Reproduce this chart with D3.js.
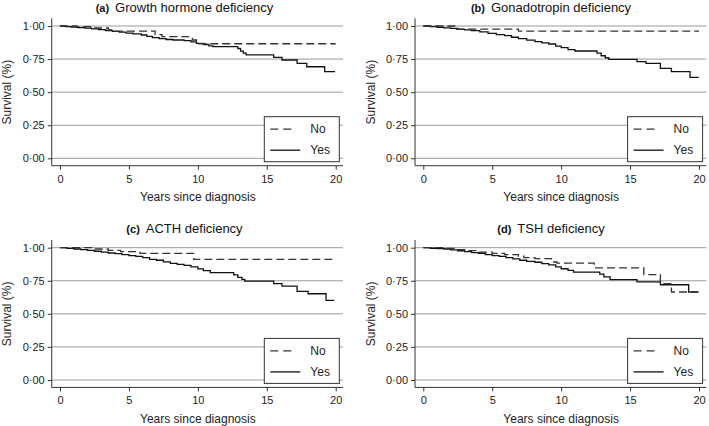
<!DOCTYPE html>
<html>
<head>
<meta charset="utf-8">
<script src="https://cdn.jsdelivr.net/npm/d3@7"></script>
<style>
  html, body { margin: 0; padding: 0; background: #fff; }
  svg { display: block; font-family: "Liberation Sans", Arial, Helvetica, sans-serif; }
</style>
</head>
<body>
<svg id="chart" width="709" height="426"></svg>
<script>
// ---------- data ----------
const panelLetters = ["(a)", "(b)", "(c)", "(d)"];
const panelTitles = ["Growth hormone deficiency", "Gonadotropin deficiency", "ACTH deficiency", "TSH deficiency"];
const seriesNames = ["No", "Yes"];
const xTicks = [0, 5, 10, 15, 20];
const yTicks = [0, 0.25, 0.5, 0.75, 1];
const xLabel = "Years since diagnosis";
const yLabel = "Survival (%)";

// Kaplan–Meier steps: [years, survival]
const noGH = [[0,1],[1.2,0.995],[2.2,0.985],[3.5,0.97],[4.0,0.962],[6.9,0.935],[7.4,0.919],[9.6,0.894],[9.9,0.866],[20,0.866]];
const yesGH = [[0,1],[0.4,0.996],[0.8,0.992],[1.3,0.988],[1.8,0.984],[2.3,0.979],[2.8,0.972],[3.3,0.966],[3.8,0.96],[4.3,0.953],[4.8,0.946],[5.3,0.94],[5.9,0.932],[6.3,0.922],[6.7,0.912],[7.2,0.905],[7.7,0.898],[8.2,0.894],[9.0,0.889],[9.5,0.88],[9.9,0.869],[10.4,0.86],[10.8,0.85],[11.1,0.844],[12.9,0.83],[13.1,0.81],[13.3,0.795],[13.5,0.781],[15.5,0.763],[16.1,0.743],[17.2,0.718],[17.9,0.692],[19.2,0.655],[19.95,0.655]];

const noGn = [[0,1],[2.4,0.977],[6.9,0.962],[20,0.962]];
const yesGn = [[0,1],[0.5,0.995],[1.0,0.99],[1.5,0.986],[2.0,0.982],[2.5,0.975],[3.0,0.97],[3.5,0.965],[4.1,0.955],[4.7,0.945],[5.3,0.935],[5.9,0.927],[6.4,0.915],[6.9,0.905],[7.5,0.893],[8.1,0.882],[8.6,0.873],[9.1,0.864],[9.6,0.848],[10.0,0.836],[10.5,0.822],[11.0,0.811],[12.6,0.795],[12.9,0.775],[13.2,0.76],[13.45,0.748],[15.5,0.73],[16.15,0.718],[17.2,0.68],[18.0,0.655],[19.35,0.612],[19.98,0.612]];

const noACTH = [[0,1],[2.3,0.99],[3.5,0.98],[4.4,0.97],[5.8,0.957],[9.7,0.912],[19.8,0.912]];
const yesACTH = [[0,1],[0.5,0.995],[1.0,0.99],[1.5,0.985],[2.0,0.98],[2.5,0.973],[3.0,0.967],[3.5,0.96],[4.0,0.955],[4.5,0.947],[5.0,0.94],[5.5,0.935],[6.0,0.925],[6.5,0.912],[7.0,0.905],[7.5,0.893],[8.0,0.882],[8.5,0.874],[9.0,0.866],[9.5,0.855],[10.0,0.84],[10.4,0.827],[10.9,0.811],[12.6,0.795],[12.9,0.775],[13.2,0.76],[13.4,0.748],[15.5,0.728],[16.1,0.71],[17.2,0.67],[18.0,0.652],[19.3,0.602],[19.9,0.602]];

const noTSH = [[0,1],[1.5,0.995],[2.3,0.986],[3.0,0.978],[4.0,0.967],[5.0,0.957],[5.9,0.947],[6.9,0.937],[7.3,0.925],[8.1,0.917],[9.3,0.892],[9.7,0.884],[12.4,0.847],[16.0,0.796],[17.2,0.728],[18.0,0.665],[19.98,0.665]];
const yesTSH = [[0,1],[0.5,0.996],[1.0,0.993],[1.5,0.99],[2.0,0.984],[2.5,0.977],[3.0,0.97],[3.5,0.963],[4.0,0.958],[4.5,0.948],[5.0,0.94],[5.5,0.935],[6.0,0.925],[6.5,0.915],[7.0,0.905],[7.5,0.896],[8.1,0.89],[8.6,0.88],[9.1,0.87],[9.6,0.855],[10.0,0.841],[10.5,0.828],[10.9,0.816],[12.8,0.8],[13.1,0.78],[13.55,0.758],[15.5,0.741],[17.2,0.72],[19.25,0.665],[19.9,0.665]];

const panelSeries = [[noGH, yesGH], [noGn, yesGn], [noACTH, yesACTH], [noTSH, yesTSH]];

// ---------- layout ----------
const colX0 = [60, 423.3];      // pixel of year 0
const rowY1 = [26, 247.7];      // pixel of survival 1.00
const xSpan = 275.7, ySpan = 132.3;
const titleCX = [184.5, 551];

const svg = d3.select("#chart");
const fmt = v => d3.format(".2f")(v).replace(".", "\u00B7");

panelSeries.forEach((series, i) => {
  const col = i % 2, row = Math.floor(i / 2);
  const x0 = colX0[col], y1 = rowY1[row];
  const x = d3.scaleLinear().domain([0, 20]).range([x0, x0 + xSpan]);
  const y = d3.scaleLinear().domain([0, 1]).range([y1 + ySpan, y1]);
  const left = x(-0.6), right = x(20.53), top = y(1.058), bottom = y(-0.056);

  const g = svg.append("g");

  // gridlines
  g.selectAll(".grid").data(yTicks).join("line")
    .attr("x1", left).attr("x2", right)
    .attr("y1", d => y(d)).attr("y2", d => y(d))
    .attr("stroke", "#9a9a9a").attr("stroke-width", 1);

  // axes
  const ya = g.append("g").attr("transform", `translate(${left},0)`)
    .call(d3.axisLeft(y).tickValues(yTicks).tickFormat(fmt).tickSize(4).tickPadding(3));
  const xa = g.append("g").attr("transform", `translate(0,${bottom})`)
    .call(d3.axisBottom(x).tickValues(xTicks).tickSize(4).tickPadding(5));
  [ya, xa].forEach(a => {
    a.select(".domain").remove();
    a.selectAll("line").attr("stroke", "#333");
    a.selectAll("text").attr("fill", "#222").style("font-size", "11px").style("font-family", "'Liberation Sans', Arial, sans-serif");
  });
  g.append("line").attr("x1", left).attr("x2", left).attr("y1", top).attr("y2", bottom).attr("stroke", "#333");
  g.append("line").attr("x1", left).attr("x2", right).attr("y1", bottom).attr("y2", bottom).attr("stroke", "#333");

  // axis titles
  g.append("text").attr("x", x(10)).attr("y", bottom + 35.5)
    .attr("text-anchor", "middle").attr("fill", "#222").style("font-size", "12px").text(xLabel);
  g.append("text").attr("transform", `translate(${left - 40.5},${y(0.5)}) rotate(-90)`)
    .attr("text-anchor", "middle").attr("fill", "#222").style("font-size", "12px").text(yLabel);

  // panel title
  const t = g.append("text").attr("x", titleCX[col]).attr("y", y1 - 14.5)
    .attr("text-anchor", "middle").attr("fill", "#111");
  t.append("tspan").style("font-weight", "bold").style("font-size", "11px").text(panelLetters[i]);
  t.append("tspan").attr("dx", 6).style("font-size", "13px").text(panelTitles[i]);

  // curves
  const line = d3.line().x(d => x(d[0])).y(d => y(d[1])).curve(d3.curveStepAfter);
  g.append("path").datum(series[1]).attr("d", line)
    .attr("fill", "none").attr("stroke", "#111").attr("stroke-width", 1.3);
  g.append("path").datum(series[0]).attr("d", line)
    .attr("fill", "none").attr("stroke", "#333").attr("stroke-width", 1.3).attr("stroke-dasharray", "8,4");

  // legend
  const lx = x0 + 204.3, ly = y1 + 90.7;
  const lg = g.append("g").attr("transform", `translate(${lx},${ly})`);
  lg.append("rect").attr("width", 75).attr("height", 45).attr("fill", "#fff").attr("stroke", "#333").attr("stroke-width", 1);
  seriesNames.forEach((nm, k) => {
    const yy = 12.5 + k * 21;
    lg.append("line").attr("x1", 6).attr("x2", k === 0 ? 31 : 36).attr("y1", yy).attr("y2", yy)
      .attr("stroke", k === 0 ? "#333" : "#111").attr("stroke-width", 1.3)
      .attr("stroke-dasharray", k === 0 ? "8,5" : null);
    lg.append("text").attr("x", 46).attr("y", yy + 4.3).attr("fill", "#222").style("font-size", "12px").text(nm);
  });
});
</script>
</body>
</html>
